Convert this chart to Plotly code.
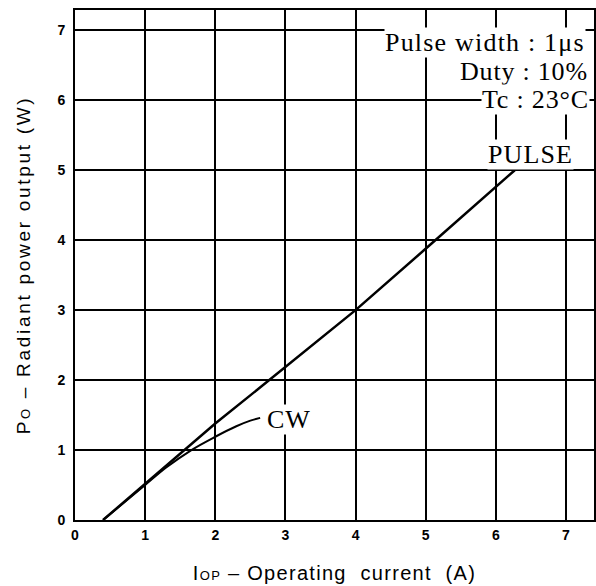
import plotly.graph_objects as go

# Data
pulse_x = [0.40, 1.00, 1.57, 2.00, 2.77, 4.00, 5.06, 6.00, 6.27]
pulse_y = [0.00, 0.52, 1.00, 1.38, 2.00, 3.00, 3.93, 4.76, 5.00]
cw_x = [0.40, 1.00, 1.30, 1.66, 2.00, 2.30, 2.50, 2.64]
cw_y = [0.00, 0.50, 0.75, 1.00, 1.19, 1.34, 1.42, 1.46]

x_ticks = [0, 1, 2, 3, 4, 5, 6, 7]
y_ticks = [0, 1, 2, 3, 4, 5, 6, 7]

cond_lines = ["Pulse width : 1\u03bcs", "Duty : 10%", "Tc : 23\u00b0C"]
cond_y = [6.83, 6.41, 6.01]
cond_x = [7.28, 7.33, 7.35]
cond_spacing = [1.2, 0.8, 0.8]

serif = "Liberation Serif, Times New Roman, serif"
sans = "Liberation Sans, Arial, sans-serif"


def spaced(t, px):
    return "<span style='letter-spacing:%spx'>%s</span>" % (px, t)


fig = go.Figure()
fig.add_trace(go.Scatter(x=pulse_x, y=pulse_y, mode="lines",
                         line=dict(color="black", width=2.5), showlegend=False))
fig.add_trace(go.Scatter(x=cw_x, y=cw_y, mode="lines", line_shape="spline",
                         line=dict(color="black", width=2), showlegend=False))

for t, xx, yy, sp in zip(cond_lines, cond_x, cond_y, cond_spacing):
    fig.add_annotation(x=xx, y=yy, xref="x", yref="y", text=spaced(t, sp), showarrow=False,
                       xanchor="right", yanchor="middle", bgcolor="white", borderpad=0,
                       font=dict(family=serif, size=26, color="black"))

fig.add_annotation(x=6.49, y=5.23, xref="x", yref="y", text=spaced("PULSE", 1.1), showarrow=False,
                   xanchor="center", yanchor="middle", bgcolor="white", borderpad=0,
                   font=dict(family=serif, size=26, color="black"))
fig.add_annotation(x=2.72, y=1.44, xref="x", yref="y", text=spaced("CW", 1), showarrow=False,
                   xanchor="left", yanchor="middle", bgcolor="white", borderpad=0,
                   font=dict(family=serif, size=26, color="black"))

axis_common = dict(showgrid=True, gridcolor="black", gridwidth=1.5,
                   showline=True, linecolor="black", linewidth=2, mirror=True,
                   zeroline=False, ticks="", automargin=False,
                   tickfont=dict(family=sans, size=14, color="black", weight="bold"))

x_title = ("<span style='letter-spacing:1.3px'>I<span style='font-size:13px'>OP</span> "
           "\u2013 Operating\u00a0 current\u00a0 (A)</span>")
y_title = ("<span style='letter-spacing:2.7px'>P<span style='font-size:13px'>O</span> "
           "\u2013 Radiant power output (W)</span>")

fig.update_xaxes(range=[0, 7.4], tickvals=x_ticks, ticktext=[str(v) for v in x_ticks],
                 ticklabelstandoff=1,
                 title=dict(text=x_title, font=dict(family=sans, size=20, color="black"), standoff=24),
                 **axis_common)
fig.update_yaxes(range=[0, 7.29], tickvals=y_ticks, ticktext=[str(v) for v in y_ticks],
                 ticklabelstandoff=5,
                 title=dict(text=y_title, font=dict(family=sans, size=19, color="black"), standoff=22),
                 **axis_common)

fig.update_layout(width=596, height=586, margin=dict(l=75, r=2, t=10, b=66),
                  paper_bgcolor="white", plot_bgcolor="white")

# Remove the browser's default 8 px body margin so the figure fills the window exactly.
fig.write_html("out.html", config={"displayModeBar": False},
               post_script="document.body.style.margin='0';document.body.style.overflow='hidden';")
